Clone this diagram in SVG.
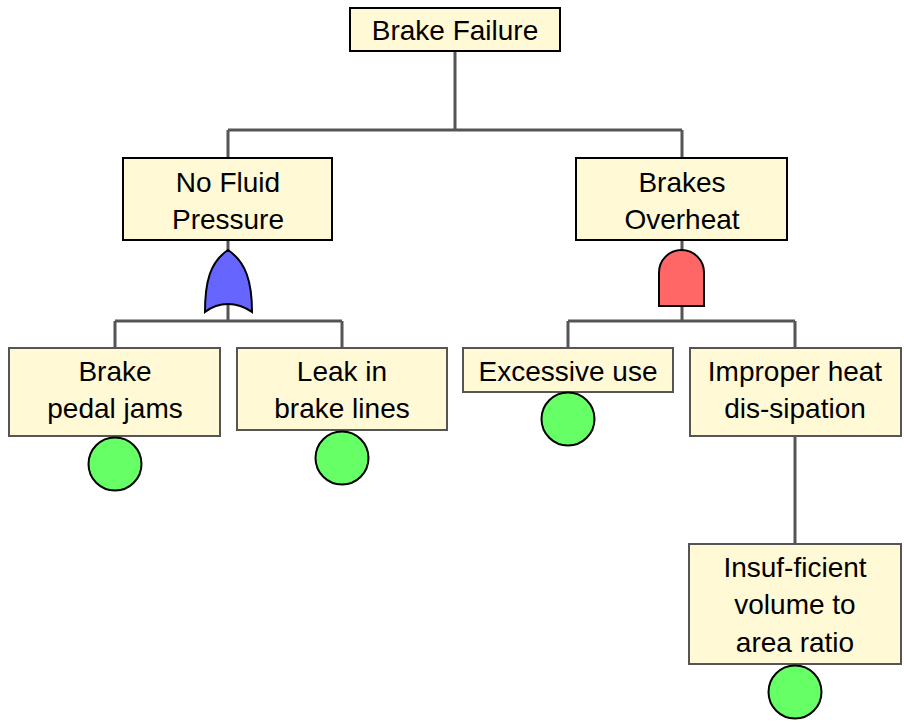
<svg xmlns="http://www.w3.org/2000/svg" width="904" height="724" viewBox="0 0 904 724">
  <style>
    .wire { fill: none; stroke: #555555; stroke-width: 3; }
    .top { fill: #FFF9D6; stroke: #000000; stroke-width: 2; }
    .leaf { fill: #FFF9D6; stroke: #555555; stroke-width: 2; }
    .basic { fill: #66FF66; stroke: #000000; stroke-width: 2; }
    .or { fill: #6666FF; stroke: #000000; stroke-width: 2; }
    .and { fill: #FF6666; stroke: #000000; stroke-width: 2; }
    text { font-family: "Liberation Sans", "DejaVu Sans", sans-serif; font-size: 28px; fill: #000000; text-anchor: middle; }
  </style>
  <rect width="904" height="724" fill="#FFFFFF"/>

  <!-- connectors -->
  <g id="connectors">
    <path class="wire" d="M455 51 V130 M228 130 H682 M228 130 V158 M682 130 V158"/>
    <path class="wire" d="M228 240 V321 M115 321 H342 M115 321 V348 M342 321 V348"/>
    <path class="wire" d="M682 240 V321 M568 321 H795 M568 321 V348 M795 321 V348"/>
    <path class="wire" d="M795 436 V544"/>
  </g>

  <!-- gates -->
  <g id="gate-or">
    <path class="or" d="M228 250 C246 262 252 282 252 312 C242 305 234 304 228 304 C222 304 214 305 205 312 C205 282 210 262 228 250 Z"/>
  </g>
  <g id="gate-and">
    <path class="and" d="M659 306 V272.5 A22.5 22.5 0 0 1 704 272.5 V306 Z"/>
  </g>

  <!-- events -->
  <g id="brake-failure">
    <rect class="top" x="350" y="8" width="210" height="43"/>
    <text x="455" y="40">Brake Failure</text>
  </g>
  <g id="no-fluid-pressure">
    <rect class="top" x="123" y="158" width="209" height="82"/>
    <text x="228" y="192">No Fluid</text>
    <text x="228" y="229">Pressure</text>
  </g>
  <g id="brakes-overheat">
    <rect class="top" x="576" y="158" width="211" height="82"/>
    <text x="682" y="192">Brakes</text>
    <text x="682" y="229">Overheat</text>
  </g>
  <g id="brake-pedal-jams">
    <rect class="leaf" x="9" y="348" width="211" height="88"/>
    <text x="115" y="381">Brake</text>
    <text x="115" y="418">pedal jams</text>
    <circle class="basic" cx="115" cy="464" r="26.5"/>
  </g>
  <g id="leak-in-brake-lines">
    <rect class="leaf" x="237" y="348" width="210" height="82"/>
    <text x="342" y="381">Leak in</text>
    <text x="342" y="418">brake lines</text>
    <circle class="basic" cx="342" cy="458" r="26.5"/>
  </g>
  <g id="excessive-use">
    <rect class="leaf" x="463" y="348" width="210" height="44"/>
    <text x="568" y="381">Excessive use</text>
    <circle class="basic" cx="568" cy="419" r="26.5"/>
  </g>
  <g id="improper-heat-dissipation">
    <rect class="leaf" x="690" y="348" width="211" height="88"/>
    <text x="795" y="381">Improper heat</text>
    <text x="795" y="418">dis-sipation</text>
  </g>
  <g id="insufficient-volume">
    <rect class="leaf" x="689" y="544" width="212" height="120"/>
    <text x="795" y="577">Insuf-ficient</text>
    <text x="795" y="614">volume to</text>
    <text x="795" y="652">area ratio</text>
    <circle class="basic" cx="795" cy="692" r="26.5"/>
  </g>
</svg>
